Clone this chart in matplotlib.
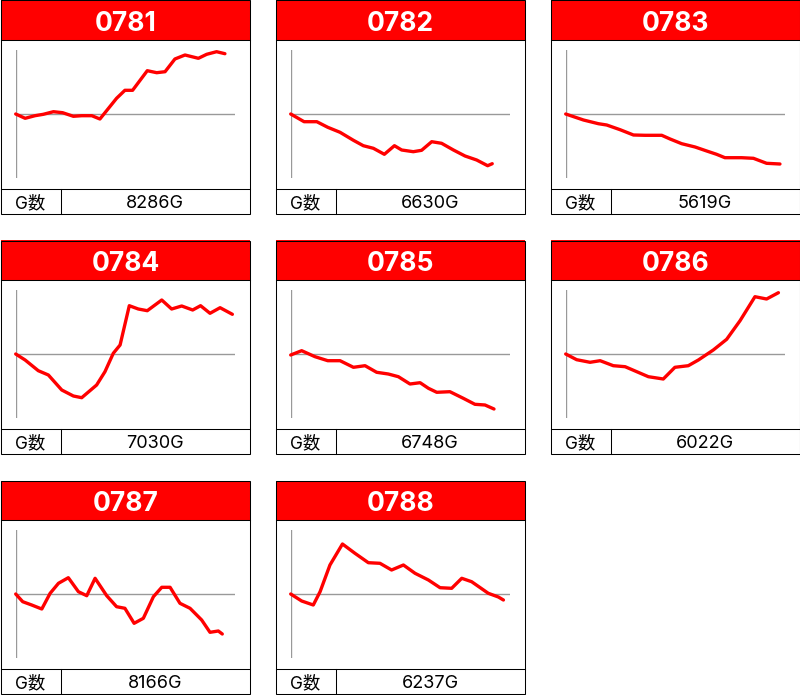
import matplotlib
matplotlib.use("Agg")
import matplotlib.pyplot as plt
from matplotlib.patches import Rectangle
from matplotlib.lines import Line2D

plt.rcParams['font.family'] = ['Inter', 'Noto Sans CJK JP', 'DejaVu Sans']

# ---- data ----
labels = ["0781", "0782", "0783", "0784", "0785", "0786", "0787", "0788"]
games = ["8286G", "6630G", "5619G", "7030G", "6748G", "6022G", "8166G", "6237G"]

x_0781 = [0, 4.3, 8.8, 12.6, 17.2, 21.4, 26.3, 30.1, 34.7, 38.4, 46.0, 49.8, 53.3, 60.0, 64.3, 68.1, 72.6, 77.2, 83.3, 87.1, 91.6, 95.4]
y_0781 = [0, -4.3, -1.7, -0.3, 2.3, 1.3, -2.3, -1.7, -1.7, -5, 15.7, 23.7, 23.7, 43.3, 41.3, 42.3, 55, 59, 55.7, 59.7, 62.3, 60.3]

x_0782 = [0, 6.1, 11.9, 16.9, 22.5, 28.6, 33.1, 37.7, 42.7, 47.3, 50.6, 55.9, 59.7, 64.3, 68.8, 74.2, 79.5, 84.8, 89.8, 91.9]
y_0782 = [0, -7.7, -7.7, -13.3, -18.3, -26.3, -31.7, -34.3, -40.3, -31.7, -36, -37.7, -36.3, -27.7, -29.3, -36, -42, -46, -51.7, -49.7]

x_0783 = [0, 8.1, 14.9, 18.7, 24.8, 30.9, 36.2, 43.8, 47.6, 52.9, 59.0, 64.3, 68.8, 72.6, 80.2, 85.6, 91.6, 97.7]
y_0783 = [0, -6, -9.7, -11, -15.7, -21, -21.3, -21.3, -25, -29.7, -33, -37, -40.3, -43.7, -43.7, -44.3, -49.3, -50]

x_0784 = [0, 4.3, 10.3, 14.9, 21.0, 26.3, 30.1, 36.9, 40.7, 44.5, 47.6, 51.8, 55.9, 60.0, 66.6, 71.1, 75.7, 80.7, 84.3, 88.6, 93.2, 98.8]
y_0784 = [0, -6, -16.7, -21, -36, -42, -43.7, -31, -17.7, 0.7, 9, 48.3, 45, 43.3, 54, 45, 48, 44, 48.3, 40.7, 46.3, 39.7]

x_0785 = [0, 5.0, 11.1, 16.9, 22.5, 28.6, 33.9, 39.2, 44.5, 49.1, 54.4, 59.0, 62.8, 66.6, 72.6, 78.7, 84.0, 88.6, 92.7]
y_0785 = [-1, 3.3, -2.7, -6.7, -6.7, -13.3, -11.7, -18.3, -20, -22.7, -30, -28.7, -34.3, -38.3, -37.7, -44.3, -50.3, -51, -55]

x_0786 = [0, 5.0, 11.1, 15.7, 21.7, 27.1, 32.4, 37.7, 44.5, 49.8, 55.9, 60.5, 67.3, 73.4, 79.5, 86.3, 91.6, 97.0]
y_0786 = [0, -5.7, -8.3, -6.7, -11.7, -12.7, -17.7, -22.7, -25, -13.3, -11.7, -6, 4, 14.7, 33.3, 57.3, 55, 61.3]

x_0787 = [0, 3.2, 7.3, 11.9, 15.7, 19.5, 24.0, 28.6, 32.4, 36.2, 41.5, 46.0, 49.8, 54.0, 58.2, 62.8, 66.6, 70.4, 74.9, 79.5, 84.8, 88.6, 92.4, 94.2]
y_0787 = [0, -7.7, -11, -15, 0.7, 10.7, 16.3, 2.3, -1.7, 15.7, -1.7, -12.7, -14.3, -29.3, -24.3, -2.7, 6.7, 6.7, -9.3, -14.3, -26, -38.3, -37, -40]

x_0788 = [0, 5.0, 10.3, 13.4, 17.9, 23.6, 29.3, 35.4, 40.7, 46.0, 51.4, 56.7, 62.8, 68.1, 73.4, 78.0, 82.5, 90.1, 94.7, 97.0]
y_0788 = [0, -7, -11, 2.3, 29, 50, 40.7, 31.3, 30.7, 24, 29, 20.7, 14, 6.3, 5.7, 15.7, 12.3, 0.7, -3, -6]

series_x = [x_0781, x_0782, x_0783, x_0784, x_0785, x_0786, x_0787, x_0788]
series_y = [y_0781, y_0782, y_0783, y_0784, y_0785, y_0786, y_0787, y_0788]

# ---- layout ----
W, H = 800, 695
fig = plt.figure(figsize=(W / 100, H / 100), dpi=100)
fig.patch.set_facecolor("white")

def fx(px):
    return px / W

def fy(py):
    return 1 - py / H

RED = "#FF0000"
LW = 0.75

col_x = [0, 275, 550]
row_y = [0, 240, 480]

for i, lab in enumerate(labels):
    x0 = col_x[i % 3]
    y0 = row_y[i // 3]
    T = fig.transFigure
    # header
    fig.add_artist(Rectangle((fx(x0 + 0.5), fy(y0 + 40)), 249 / W, 39.5 / H,
                             facecolor=RED, edgecolor="none", transform=T))
    # outer frame
    fig.add_artist(Rectangle((fx(x0 + 0.5), fy(y0 + 213.5)), 249 / W, 213 / H,
                             fill=False, edgecolor="black", linewidth=LW, transform=T))
    fig.add_artist(Line2D([fx(x0 + 0.5), fx(x0 + 249.5)], [fy(y0 + 40), fy(y0 + 40)],
                          color="black", linewidth=LW, transform=T))
    fig.add_artist(Line2D([fx(x0 + 0.5), fx(x0 + 249.5)], [fy(y0 + 189), fy(y0 + 189)],
                          color="black", linewidth=LW, transform=T))
    fig.add_artist(Line2D([fx(x0 + 60.5), fx(x0 + 60.5)], [fy(y0 + 189), fy(y0 + 213.5)],
                          color="black", linewidth=LW, transform=T))
    # texts
    fig.text(fx(x0 + 125.5), fy(y0 + 21), lab, color="white", fontsize=19,
             fontweight="bold", ha="center", va="center_baseline")
    fig.text(fx(x0 + 30.5), fy(y0 + 202), "G数", color="black", fontsize=12.5,
             ha="center", va="center_baseline")
    fig.text(fx(x0 + 155), fy(y0 + 202), games[i], color="black", fontsize=13,
             ha="center", va="center_baseline")

    # chart
    ax = fig.add_axes([fx(x0 + 15.7), fy(y0 + 178), (235 - 15.7) / W, 128 / H])
    ax.set_xlim(0, 100)
    ax.set_ylim(-64, 64)
    ax.axis("off")
    ax.axhline(0, color="#999999", linewidth=1.0, zorder=1)
    ax.axvline(0, color="#999999", linewidth=1.0, zorder=1)
    ax.plot(series_x[i], series_y[i], color=RED, linewidth=2.4,
            solid_joinstyle="round", solid_capstyle="round", zorder=2, clip_on=False)

fig.savefig("out.png", dpi=100, facecolor="white")
